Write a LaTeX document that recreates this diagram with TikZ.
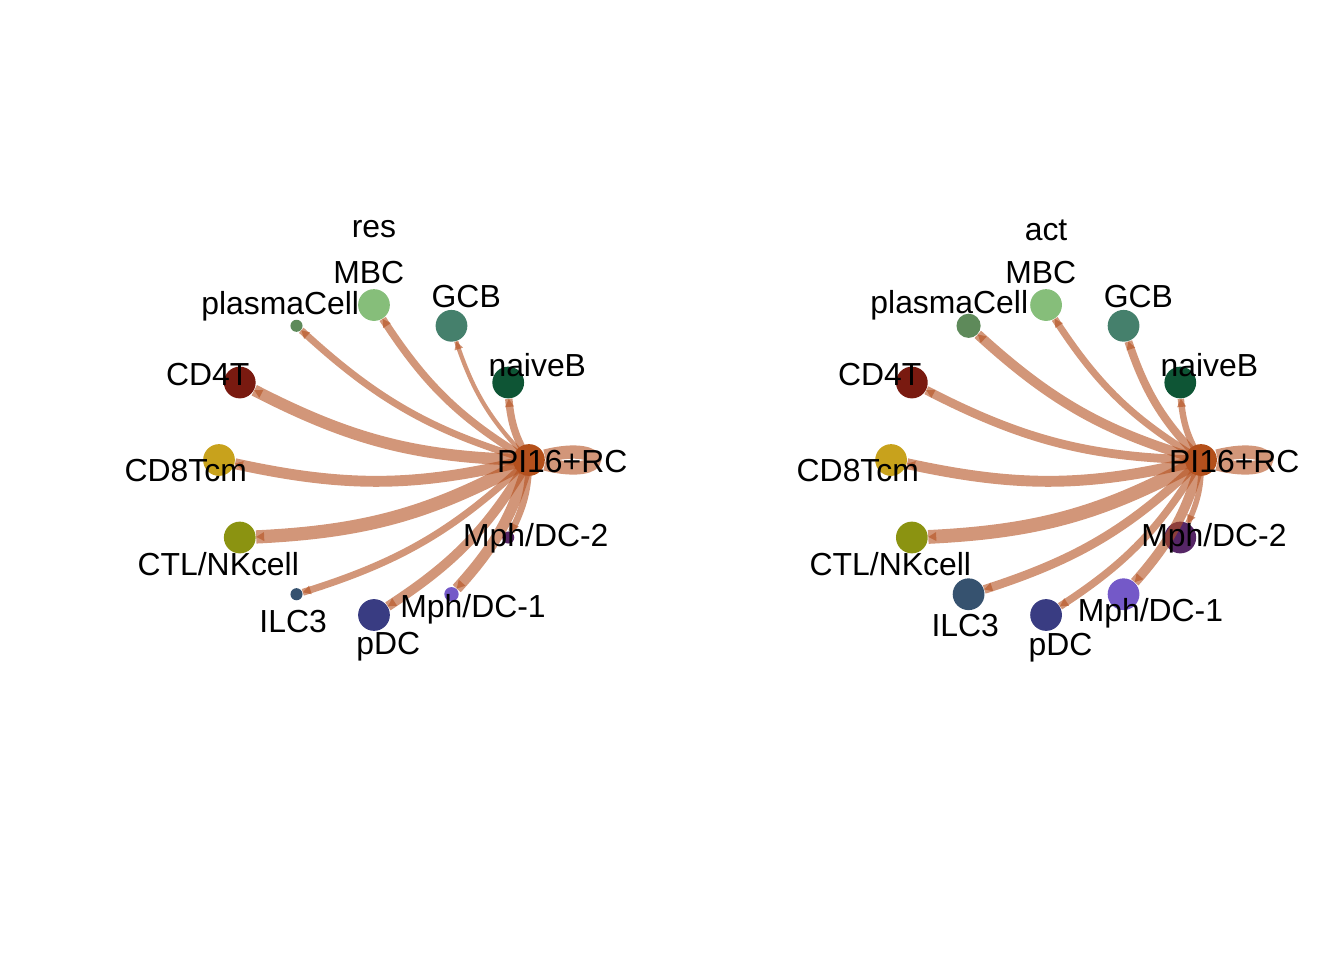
\documentclass[tikz,border=0pt]{standalone}
\usepackage{fontspec}
\setmainfont{Liberation Sans}
\usepackage{xcolor}
\usetikzlibrary{arrows.meta, decorations.markings}

\definecolor{cPI}{HTML}{B4501A}
\definecolor{edgecol}{HTML}{B4501F}
\definecolor{cNaiveB}{HTML}{0E5535}
\definecolor{cGCB}{HTML}{45806C}
\definecolor{cMBC}{HTML}{86BE7A}
\definecolor{cPlasma}{HTML}{5E8A5A}
\definecolor{cCDfour}{HTML}{791A10}
\definecolor{cCDeight}{HTML}{C8A21C}
\definecolor{cCTL}{HTML}{8B9311}
\definecolor{cILC}{HTML}{36526F}
\definecolor{cpDC}{HTML}{393C82}
\definecolor{cMphA}{HTML}{7459C8}
\definecolor{cMphB}{HTML}{562666}

\begin{document}
\begin{tikzpicture}[
  every node/.style={font=\fontsize{12}{14}\selectfont},
  cell/.style={circle, inner sep=0pt, minimum size=0.42cm},
  tiny/.style={cell, minimum size=0.16cm},
  lbl/.style={anchor=base, inner sep=0pt},
  link/.style={draw, color=edgecol, opacity=0.6, bend left=13,
               postaction={decorate},
               decoration={markings, mark=at position 1 with
                 {\arrow{Triangle[length=3pt, width=3.4pt, line width=0pt]}}}},
  selfloop/.style={draw, color=edgecol, opacity=0.6, out=14, in=-14,
                   min distance=0.9cm},
]
  \useasboundingbox (-4.947,-6.614) rectangle (12.831,6.085);

  % res
  \node[cell, fill=cPI] (rPI) at (0:2.05) {};
  \node[cell, fill=cNaiveB] (rNaiveB) at (30:2.05) {};
  \node[cell, fill=cGCB] (rGCB) at (60:2.05) {};
  \node[cell, fill=cMBC] (rMBC) at (90:2.05) {};
  \node[tiny, fill=cPlasma] (rPlasma) at (120:2.05) {};
  \node[cell, fill=cCDfour] (rCD4T) at (150:2.05) {};
  \node[cell, fill=cCDeight] (rCD8) at (180:2.05) {};
  \node[cell, fill=cCTL] (rCTL) at (210:2.05) {};
  \node[tiny, fill=cILC] (rILC3) at (240:2.05) {};
  \node[cell, fill=cpDC] (rpDC) at (270:2.05) {};
  \node[tiny, fill=cMphA, minimum size=0.19cm] (rMphA) at (300:2.05) {};
  \node[tiny, fill=cMphB] (rMphB) at (330:2.05) {};

  \draw[selfloop, line width=5pt] (rPI) to (rPI);
  \draw[link, line width=2.8pt] (rPI.center) to (rNaiveB);
  \draw[link, line width=1.6pt] (rPI.center) to (rGCB);
  \draw[link, line width=2.8pt] (rPI.center) to (rMBC);
  \draw[link, line width=2.6pt] (rPI.center) to (rPlasma);
  \draw[link, line width=4.4pt] (rPI.center) to (rCD4T);
  \draw[link, line width=4.1pt] (rPI.center) to (rCD8);
  \draw[link, line width=5pt] (rPI.center) to (rCTL);
  \draw[link, line width=2.6pt] (rPI.center) to (rILC3);
  \draw[link, line width=3.6pt] (rPI.center) to (rpDC);
  \draw[link, line width=4.1pt] (rPI.center) to (rMphA);
  \draw[link, line width=2.5pt] (rPI.center) to (rMphB);

  \node[lbl] (rTitle) at (0,2.94) {res};
  \node[lbl] (rPIl) at (2.49,-0.17) {PI16+RC};
  \node[lbl] (rNaiveBl) at (2.16,1.11) {naiveB};
  \node[lbl] (rGCBl) at (1.22,2.02) {GCB};
  \node[lbl] (rMBCl) at (-0.07,2.34) {MBC};
  \node[lbl] (rPlasmal) at (-1.24,1.92) {plasmaCell};
  \node[lbl] (rCD4Tl) at (-2.20,0.98) {CD4T};
  \node[lbl] (rCD8l) at (-2.49,-0.28) {CD8Tcm};
  \node[lbl] (rCTLl) at (-2.06,-1.53) {CTL/NKcell};
  \node[lbl] (rILC3l) at (-1.07,-2.28) {ILC3};
  \node[lbl] (rpDCl) at (0.19,-2.57) {pDC};
  \node[lbl] (rMphAl) at (1.31,-2.08) {Mph/DC-1};
  \node[lbl] (rMphBl) at (2.14,-1.15) {Mph/DC-2};

  % act
  \begin{scope}[xshift=8.89cm]
    \node[cell, fill=cPI] (aPI) at (0:2.05) {};
    \node[cell, fill=cNaiveB] (aNaiveB) at (30:2.05) {};
    \node[cell, fill=cGCB] (aGCB) at (60:2.05) {};
    \node[cell, fill=cMBC] (aMBC) at (90:2.05) {};
    \node[cell, fill=cPlasma, minimum size=0.32cm] (aPlasma) at (120:2.05) {};
    \node[cell, fill=cCDfour] (aCD4T) at (150:2.05) {};
    \node[cell, fill=cCDeight] (aCD8) at (180:2.05) {};
    \node[cell, fill=cCTL] (aCTL) at (210:2.05) {};
    \node[cell, fill=cILC] (aILC3) at (240:2.05) {};
    \node[cell, fill=cpDC] (apDC) at (270:2.05) {};
    \node[cell, fill=cMphA] (aMphA) at (300:2.05) {};
    \node[cell, fill=cMphB] (aMphB) at (330:2.05) {};

    \draw[selfloop, line width=5pt] (aPI) to (aPI);
    \draw[link, line width=2.4pt] (aPI.center) to (aNaiveB);
    \draw[link, line width=3.0pt] (aPI.center) to (aGCB);
    \draw[link, line width=2.6pt] (aPI.center) to (aMBC);
    \draw[link, line width=3.7pt] (aPI.center) to (aPlasma);
    \draw[link, line width=3.3pt] (aPI.center) to (aCD4T);
    \draw[link, line width=4.1pt] (aPI.center) to (aCD8);
    \draw[link, line width=5.2pt] (aPI.center) to (aCTL);
    \draw[link, line width=3.3pt] (aPI.center) to (aILC3);
    \draw[link, line width=2.8pt] (aPI.center) to (apDC);
    \draw[link, line width=3.7pt] (aPI.center) to (aMphA);
    \draw[link, line width=2.1pt] (aPI.center) to (aMphB);

    \node[lbl] (aTitle) at (0,2.90) {act};
    \node[lbl] (aPIl) at (2.49,-0.17) {PI16+RC};
    \node[lbl] (aNaiveBl) at (2.16,1.11) {naiveB};
    \node[lbl] (aGCBl) at (1.22,2.02) {GCB};
    \node[lbl] (aMBCl) at (-0.07,2.34) {MBC};
    \node[lbl] (aPlasmal) at (-1.28,1.94) {plasmaCell};
    \node[lbl] (aCD4Tl) at (-2.20,0.98) {CD4T};
    \node[lbl] (aCD8l) at (-2.49,-0.28) {CD8Tcm};
    \node[lbl] (aCTLl) at (-2.06,-1.53) {CTL/NKcell};
    \node[lbl] (aILC3l) at (-1.07,-2.34) {ILC3};
    \node[lbl] (apDCl) at (0.19,-2.58) {pDC};
    \node[lbl] (aMphAl) at (1.38,-2.13) {Mph/DC-1};
    \node[lbl] (aMphBl) at (2.22,-1.15) {Mph/DC-2};
  \end{scope}
\end{tikzpicture}
\end{document}
